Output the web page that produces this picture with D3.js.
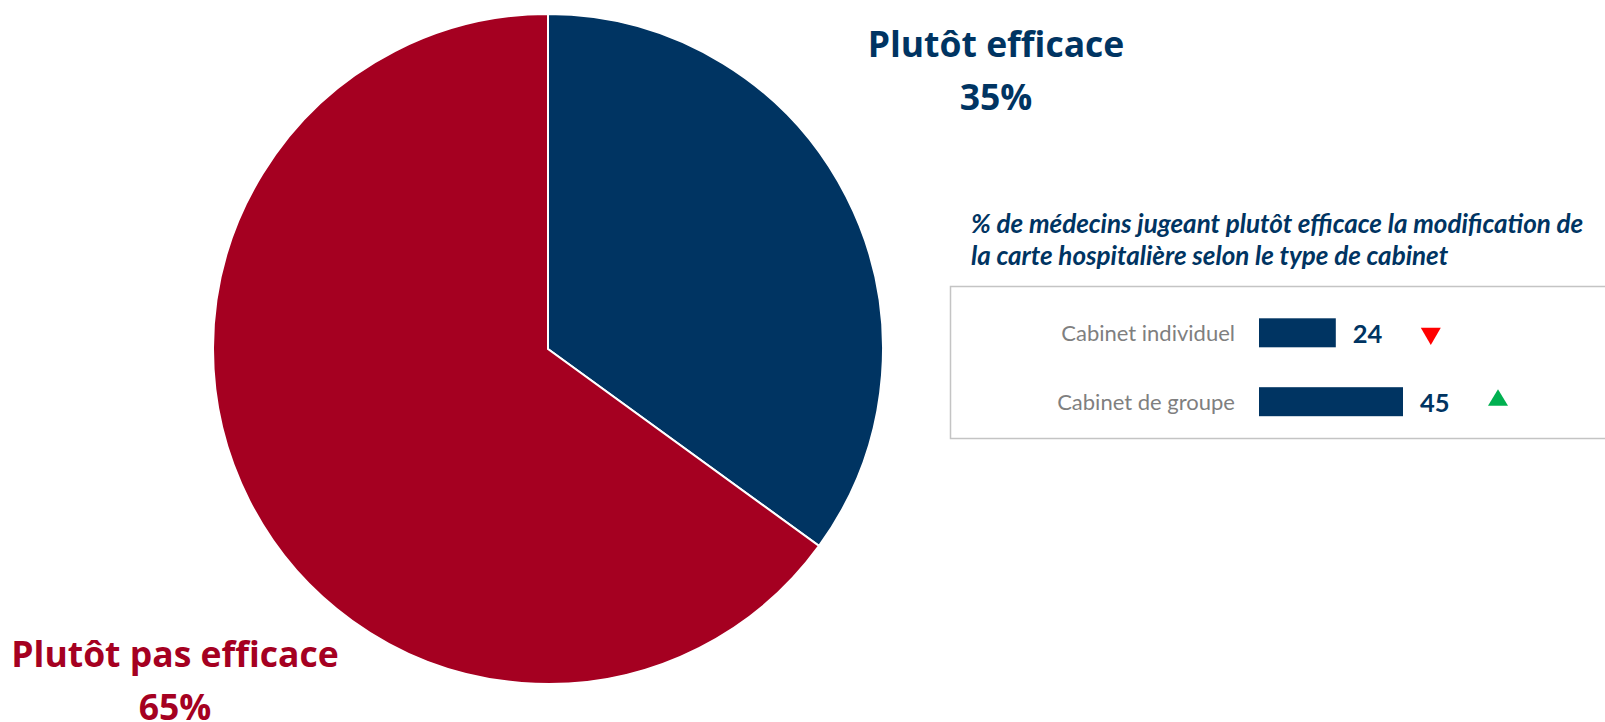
<!DOCTYPE html>
<html>
<head>
<meta charset="utf-8">
<script src="https://cdn.jsdelivr.net/npm/d3@7"></script>
<style>
  body { margin: 0; background: #fff; }
  svg { display: block; font-family: Lato, "Open Sans", sans-serif; }
</style>
</head>
<body>
<div id="chart"></div>
<script>
// pie data
var pieLabels = ["Plutôt efficace", "Plutôt pas efficace"];
var pieValues = [35, 65];
var pieColors = ["#003462", "#a50021"];

// small bar panel
var barCategories = ["Cabinet individuel", "Cabinet de groupe"];
var barValues = [24, 45];
var barTrends = ["down", "up"];
var subtitleLines = [
  "% de médecins jugeant plutôt efficace la modification de",
  "la carte hospitalière selon le type de cabinet"
];

var width = 1605, height = 722;

var svg = d3.select("#chart").append("svg")
    .attr("width", width)
    .attr("height", height);

// --- pie ---
var cx = 548, cy = 349, radius = 335;

var pie = d3.pie().sort(null).value(function(d) { return d; });
var arc = d3.arc().innerRadius(0).outerRadius(radius);

var pieG = svg.append("g")
    .attr("transform", "translate(" + cx + "," + cy + ")");

pieG.selectAll("path")
    .data(pie(pieValues))
    .enter().append("path")
    .attr("d", arc)
    .attr("fill", function(d, i) { return pieColors[i]; })
    .attr("stroke", "#fff")
    .attr("stroke-width", 2);

// slice labels sit outside the pie like in the original
var labelPos = [{x: 996, y: 57}, {x: 175, y: 667}];
var pieText = svg.selectAll(".pie-label")
    .data(pieValues)
    .enter().append("text")
    .attr("class", "pie-label")
    .attr("text-anchor", "middle")
    .attr("fill", function(d, i) { return pieColors[i]; })
    .style("font-family", "'Open Sans', sans-serif")
    .style("font-weight", "bold")
    .style("font-size", "35.5px");

pieText.append("tspan")
    .attr("x", function(d, i) { return labelPos[i].x; })
    .attr("y", function(d, i) { return labelPos[i].y; })
    .text(function(d, i) { return pieLabels[i]; });
pieText.append("tspan")
    .attr("x", function(d, i) { return labelPos[i].x; })
    .attr("dy", 52.5)
    .text(function(d) { return d + "%"; });

// --- subtitle ---
svg.append("text")
    .attr("fill", "#003462")
    .style("font-weight", "bold")
    .style("font-style", "italic")
    .style("font-size", "26px")
    .selectAll("tspan")
    .data(subtitleLines)
    .enter().append("tspan")
    .attr("x", 971)
    .attr("y", function(d, i) { return 233 + i * 32; })
    .text(function(d) { return d; });

// --- bar panel ---
svg.append("rect")
    .attr("x", 950.5)
    .attr("y", 286.5)
    .attr("width", 700)
    .attr("height", 152)
    .attr("fill", "none")
    .attr("stroke", "#c4c4c4")
    .attr("stroke-width", 1.5);

var x = d3.scaleLinear().domain([0, 100]).range([1259, 1579]);
var y = d3.scalePoint().domain(barCategories).range([332.8, 401.7]);
var barH = 29;

var rows = svg.selectAll(".row")
    .data(barCategories)
    .enter().append("g")
    .attr("class", "row");

rows.append("rect")
    .attr("x", x(0))
    .attr("y", function(d) { return y(d) - barH / 2; })
    .attr("width", function(d, i) { return x(barValues[i]) - x(0); })
    .attr("height", barH)
    .attr("fill", "#003462");

rows.append("text")
    .attr("x", x(0) - 24)
    .attr("y", function(d) { return y(d) + 8; })
    .attr("text-anchor", "end")
    .attr("fill", "#7f7f7f")
    .style("font-size", "22px")
    .text(function(d) { return d; });

rows.append("text")
    .attr("x", function(d, i) { return x(barValues[i]) + 17; })
    .attr("y", function(d) { return y(d) + 10.3; })
    .attr("fill", "#003462")
    .style("font-weight", "bold")
    .style("font-size", "25.5px")
    .text(function(d, i) { return barValues[i]; });

// trend arrows
var line = d3.line();
rows.append("path")
    .attr("d", function(d, i) {
        var tx = x(barValues[i]) + 95, c = y(d);
        if (barTrends[i] == "down")
            return line([[tx - 10, c - 5], [tx + 10, c - 5], [tx, c + 12.3]]) + "Z";
        return line([[tx - 10, c + 4], [tx + 10, c + 4], [tx, c - 12.4]]) + "Z";
    })
    .attr("fill", function(d, i) { return barTrends[i] == "down" ? "#ff0000" : "#00b050"; });
</script>
</body>
</html>
